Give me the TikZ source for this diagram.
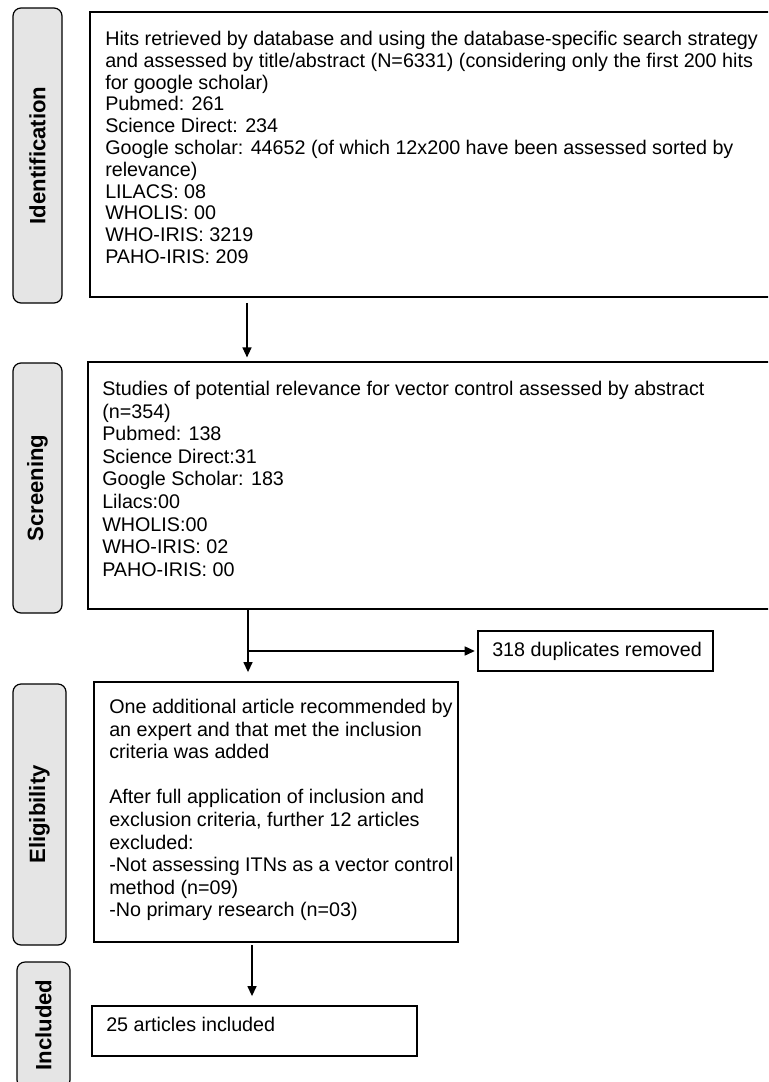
\documentclass[tikz,border=0pt]{standalone}
\usepackage{fontspec}
\setmainfont{Liberation Sans}
\usetikzlibrary{arrows.meta,fit}
\definecolor{labgray}{RGB}{229,229,229}
\begin{document}
\begin{tikzpicture}[x=0.75pt,y=-0.75pt,
  box/.style={draw,line width=0.9pt,inner sep=0pt},
  lab/.style={draw,line width=0.9pt,inner sep=0pt,fill=labgray,rounded corners=6pt},
  labtext/.style={rotate=90,font=\bfseries\fontsize{16.6}{19}\selectfont,inner sep=0pt},
  txt/.style={anchor=north west,inner sep=0pt,align=left,font=\fontsize{14.8}{16.95}\selectfont},
  arr/.style={line width=0.9pt,-{Triangle[length=7.5pt,width=6.8pt]}}]
\useasboundingbox (0,0) rectangle (768,1082);
\clip (0,0) rectangle (768,1082);
\fill[white] (0,0) rectangle (768,1082);

% side labels
\node[lab,fit={(13,8) (62,303)}] (L1) {};
\node[labtext] at (L1.center) {Identification};
\node[lab,fit={(13,363) (62,613)}] (L2) {};
\node[labtext] at (L2.center) {Screening};
\node[lab,fit={(13,684) (66,945)}] (L3) {};
\node[labtext] at (L3.center) {Eligibility};
\node[lab,fit={(17,962) (70,1088)}] (L4) {};
\node[labtext] at (L4.center) {Included};

% boxes
\node[box,fit={(90,12) (800,297)}] (B1) {};
\node[txt,font=\fontsize{14.8}{16.35}\selectfont] (T1) at (105,31) {Hits retrieved by database and using the database-specific search strategy\\
and assessed by title/abstract (N=6331) (considering only the first 200 hits\\
for google scholar)\\
Pubmed: 261\\
Science Direct: 234\\
Google scholar: 44652 (of which 12x200 have been assessed sorted by\\
relevance)\\
LILACS: 08\\
WHOLIS: 00\\
WHO-IRIS: 3219\\
PAHO-IRIS: 209};

\node[box,fit={(88,362) (800,609)}] (B2) {};
\node[txt] (T2) at (102,381) {Studies of potential relevance for vector control assessed by abstract\\
(n=354)\\
Pubmed: 138\\
Science Direct:31\\
Google Scholar: 183\\
Lilacs:00\\
WHOLIS:00\\
WHO-IRIS: 02\\
PAHO-IRIS: 00};

\node[box,fit={(478,631) (713,671)}] (D) {};
\node[txt] (TD) at (492,642) {318 duplicates removed};

\node[box,fit={(94,682) (458,942)}] (B3) {};
\node[txt] (T3) at (109,699) {One additional article recommended by\\
an expert and that met the inclusion\\
criteria was added\\[16.95pt]
After full application of inclusion and\\
exclusion criteria, further 12 articles\\
excluded:\\
-Not assessing ITNs as a vector control\\
method (n=09)\\
-No primary research (n=03)};

\node[box,fit={(92,1006) (417,1056)}] (B4) {};
\node[txt] (T4) at (106,1017) {25 articles included};

% connectors
\coordinate (c1) at (247,0);
\coordinate (c2) at (248,0);
\coordinate (c3) at (252,0);
\draw[arr,shorten <=4pt,shorten >=3pt] (B1.south -| c1) -- (B2.north -| c1);
\draw[arr,shorten >=7pt] (B2.south -| c2) -- (B3.north -| c2);
\draw[arr,shorten >=2pt] (B2.south -| c2) |- (D.west);
\draw[arr,shorten <=2pt,shorten >=7pt] (B3.south -| c3) -- (B4.north -| c3);
\end{tikzpicture}
\end{document}
